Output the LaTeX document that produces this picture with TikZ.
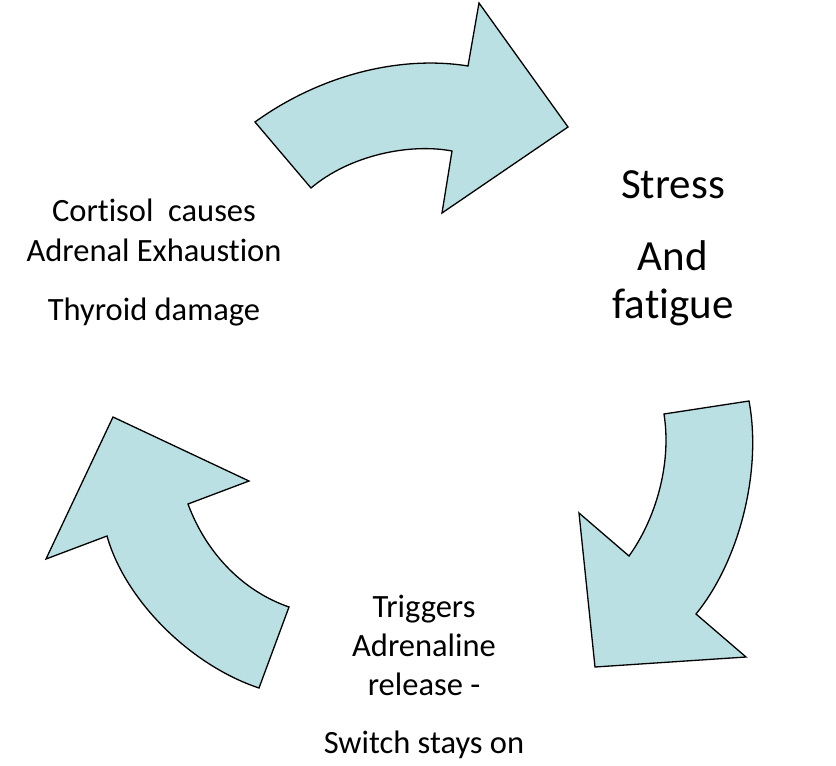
\documentclass[tikz,border=0pt]{standalone}
\usepackage{fontspec}
\setmainfont{Carlito}[Ligatures=NoCommon]
\usepackage{xcolor}
\usetikzlibrary{calc}

\definecolor{cyclefill}{RGB}{187,224,227}

\begin{document}
\begin{tikzpicture}[
  x=1pt, y=-1pt,
  line cap=round,
  line join=miter,
  cyclearrow/.style={fill=cyclefill, draw=black, line width=1.3pt},
  smalltxt/.style={anchor=base, inner sep=0pt, font=\fontsize{32.5}{39}\selectfont},
  bigtxt/.style={anchor=base, inner sep=0pt, font=\fontsize{43}{50}\selectfont}
]
  % Page frame (white, fixes margins)
  \useasboundingbox[fill=white] (0,0) rectangle (836,766);

  % Top arrow (left -> right)
  \draw[cyclearrow] (255,122) .. controls (320,75) and (400,55) .. (468,66)
    -- (479,3) -- (568,127) -- (442,213) -- (452,151)
    .. controls (410,143) and (350,155) .. (311,188) -- cycle;

  % Right arrow (top -> bottom)
  \draw[cyclearrow] (749,401) .. controls (762,470) and (740,560) .. (696,614)
    -- (746,657) -- (595,667) -- (579,513) -- (629,556)
    .. controls (655,520) and (672,465) .. (664,414) -- cycle;

  % Left arrow (bottom -> top)
  \draw[cyclearrow] (107,536) .. controls (125,600) and (190,665) .. (259,688)
    -- (289,607) .. controls (240,590) and (205,550) .. (188,504)
    -- (249,481) -- (113,417) -- (46,559) -- cycle;

  % Stage texts
  \node[bigtxt] (stress)  at (673,198) {Stress};
  \node[bigtxt] (and)     at (673,270) {And};
  \node[bigtxt] (fatigue) at (673,318) {fatigue};

  \node[smalltxt] (trig)   at (424,617) {Triggers};
  \node[smalltxt] (adren)  at (424,656) {Adrenaline};
  \node[smalltxt] (rel)    at (424,695) {release -};
  \node[smalltxt] (switch) at (424,753) {Switch stays on};

  \node[smalltxt] (cort)    at (154,221) {Cortisol\ \ causes};
  \node[smalltxt] (exhaust) at (154,261) {Adrenal Exhaustion};
  \node[smalltxt] (thyroid) at (154,320) {Thyroid damage};
\end{tikzpicture}
\end{document}
